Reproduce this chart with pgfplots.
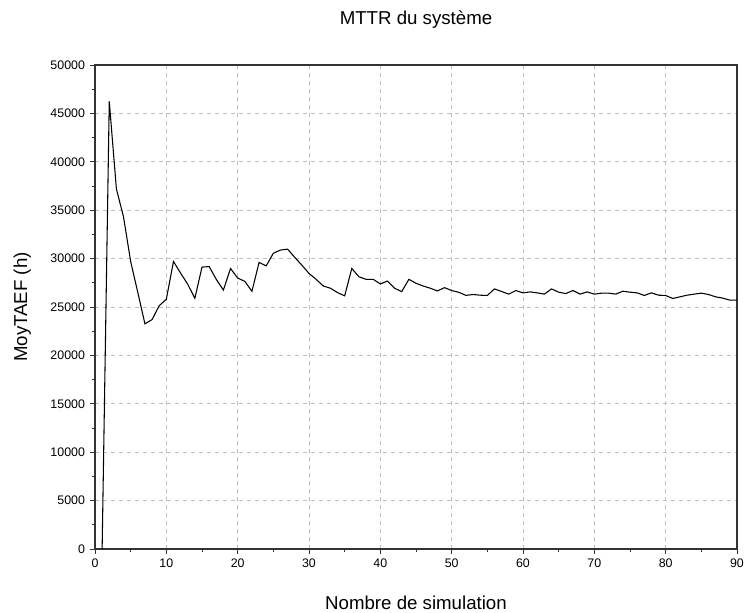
\documentclass[border=0pt]{standalone}
\usepackage{fontspec}
\setmainfont{Liberation Sans}
\usepackage{pgfplots}
\pgfplotsset{compat=1.18}
\begin{document}
\begin{tikzpicture}
\useasboundingbox (-71.25pt,-48pt) rectangle (487.5pt,411.75pt);
\begin{axis}[
  scale only axis,
  width=481.5pt, height=363pt,
  at={(0,0)}, anchor=south west,
  xmin=0, xmax=90, ymin=0, ymax=50000,
  xtick={0,10,...,90},
  ytick={0,5000,...,50000},
  minor x tick num=1,
  minor y tick num=1,
  tick align=outside,
  xtick pos=bottom, ytick pos=left,
  major tick length=4pt, minor tick length=2.5pt,
  axis line style={line width=0.9pt, black!80},
  every tick/.style={black!80, line width=0.7pt},
  grid=major,
  major grid style={dashed, gray!50, line width=0.5pt},
  scaled y ticks=false,
  /pgf/number format/assume math mode=true,
  yticklabel style={/pgf/number format/fixed, /pgf/number format/1000 sep={}},
  ticklabel style={font=\fontsize{9.3}{10}\selectfont},
  title={MTTR du système},
  title style={at={(axis description cs:0.5,1.0765)}, anchor=center, font=\fontsize{14}{16}\selectfont},
  xlabel={Nombre de simulation},
  xlabel style={at={(axis description cs:0.5,-0.1116)}, anchor=center, font=\fontsize{14}{16}\selectfont},
  ylabel={MoyTAEF (h)},
  ylabel style={at={(axis description cs:-0.1132,0.5)}, anchor=center, font=\fontsize{14}{16}\selectfont},
]
\addplot[black, line width=0.8pt] coordinates {
(1,0) (2,46240) (3,37200) (4,34300) (5,29700) (6,26500) (7,23260) (8,23700)
(9,25130) (10,25800) (11,29700) (12,28500) (13,27350) (14,25900) (15,29120)
(16,29180) (17,27860) (18,26750) (19,28980) (20,27990) (21,27650) (22,26620)
(23,29600) (24,29250) (25,30550) (26,30880) (27,30980) (28,30130) (29,29320)
(30,28470) (31,27860) (32,27170) (33,26940) (34,26490) (35,26150) (36,28980)
(37,28120) (38,27860) (39,27860) (40,27380) (41,27680) (42,26940) (43,26590)
(44,27860) (45,27450) (46,27170) (47,26940) (48,26660) (49,27000) (50,26700)
(51,26520) (52,26200) (53,26290) (54,26220) (55,26190) (56,26870) (57,26600)
(58,26330) (59,26700) (60,26460) (61,26560) (62,26460) (63,26330) (64,26870)
(65,26530) (66,26390) (67,26700) (68,26330) (69,26560) (70,26330) (71,26430)
(72,26430) (73,26330) (74,26630) (75,26530) (76,26460) (77,26190) (78,26460)
(79,26220) (80,26190) (81,25880) (82,26050) (83,26220) (84,26330) (85,26430)
(86,26290) (87,26050) (88,25920) (89,25710) (90,25710)
};
\end{axis}
\end{tikzpicture}
\end{document}
